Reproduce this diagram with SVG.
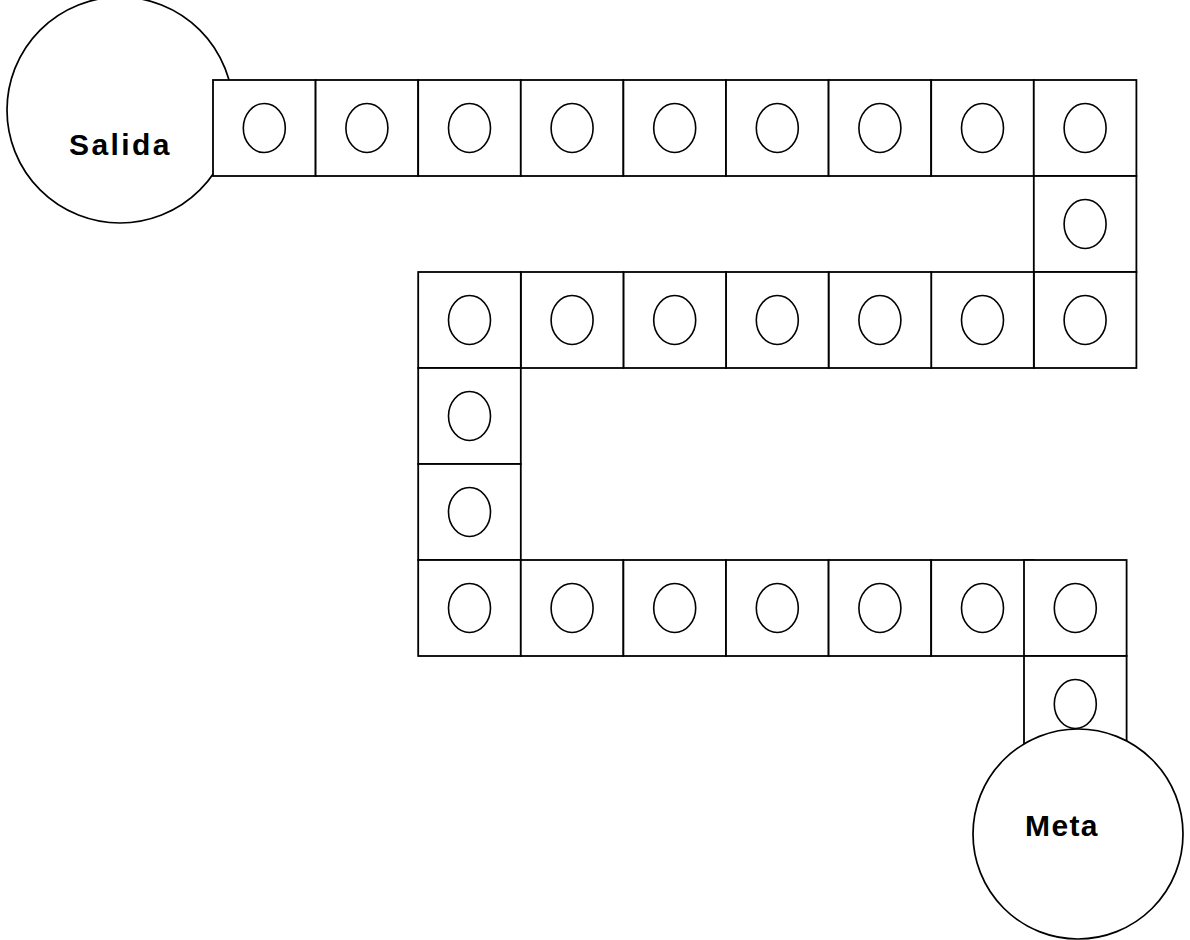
<svg xmlns="http://www.w3.org/2000/svg" width="1190" height="940" viewBox="0 0 1190 940">
<style>
.bg{fill:#ffffff}
.big{fill:#ffffff;stroke:#000000;stroke-width:1.7}
.sq{fill:#ffffff;stroke:#000000;stroke-width:1.8}
.dot{fill:none;stroke:#000000;stroke-width:1.6}
.lbl{font-family:"Liberation Sans",Arial,sans-serif;font-weight:bold;font-size:30px;fill:#000000}
</style>
<defs>
<g id="cell">
<rect class="sq" x="0" y="0" width="102.6" height="96"/>
<ellipse class="dot" cx="51.3" cy="48" rx="21" ry="24.5"/>
</g>
</defs>
<rect class="bg" x="0" y="0" width="1190" height="940"/>
<g id="salida">
<circle class="big" cx="120" cy="110" r="113"/>
<text class="lbl" x="69" y="154.5" letter-spacing="2.4">Salida</text>
</g>
<g id="row1">
<use id="c1" href="#cell" x="213" y="80"/>
<use id="c2" href="#cell" x="315.6" y="80"/>
<use id="c3" href="#cell" x="418.2" y="80"/>
<use id="c4" href="#cell" x="520.8" y="80"/>
<use id="c5" href="#cell" x="623.4" y="80"/>
<use id="c6" href="#cell" x="726" y="80"/>
<use id="c7" href="#cell" x="828.6" y="80"/>
<use id="c8" href="#cell" x="931.2" y="80"/>
<use id="c9" href="#cell" x="1033.8" y="80"/>
</g>
<g id="col1">
<use id="c10" href="#cell" x="1033.8" y="176"/>
</g>
<g id="row2">
<use id="c11" href="#cell" x="1033.8" y="272"/>
<use id="c12" href="#cell" x="931.2" y="272"/>
<use id="c13" href="#cell" x="828.6" y="272"/>
<use id="c14" href="#cell" x="726" y="272"/>
<use id="c15" href="#cell" x="623.4" y="272"/>
<use id="c16" href="#cell" x="520.8" y="272"/>
<use id="c17" href="#cell" x="418.2" y="272"/>
</g>
<g id="col2">
<use id="c18" href="#cell" x="418.2" y="368"/>
<use id="c19" href="#cell" x="418.2" y="464"/>
</g>
<g id="row3">
<use id="c20" href="#cell" x="418.2" y="560"/>
<use id="c21" href="#cell" x="520.8" y="560"/>
<use id="c22" href="#cell" x="623.4" y="560"/>
<use id="c23" href="#cell" x="726" y="560"/>
<use id="c24" href="#cell" x="828.6" y="560"/>
<use id="c25" href="#cell" x="931.2" y="560"/>
<use id="c26" href="#cell" x="1024" y="560"/>
</g>
<g id="col3">
<use id="c27" href="#cell" x="1024" y="656"/>
</g>
<g id="meta">
<circle class="big" cx="1078" cy="834" r="105"/>
<text class="lbl" x="1025" y="836" letter-spacing="1.4">Meta</text>
</g>
</svg>
